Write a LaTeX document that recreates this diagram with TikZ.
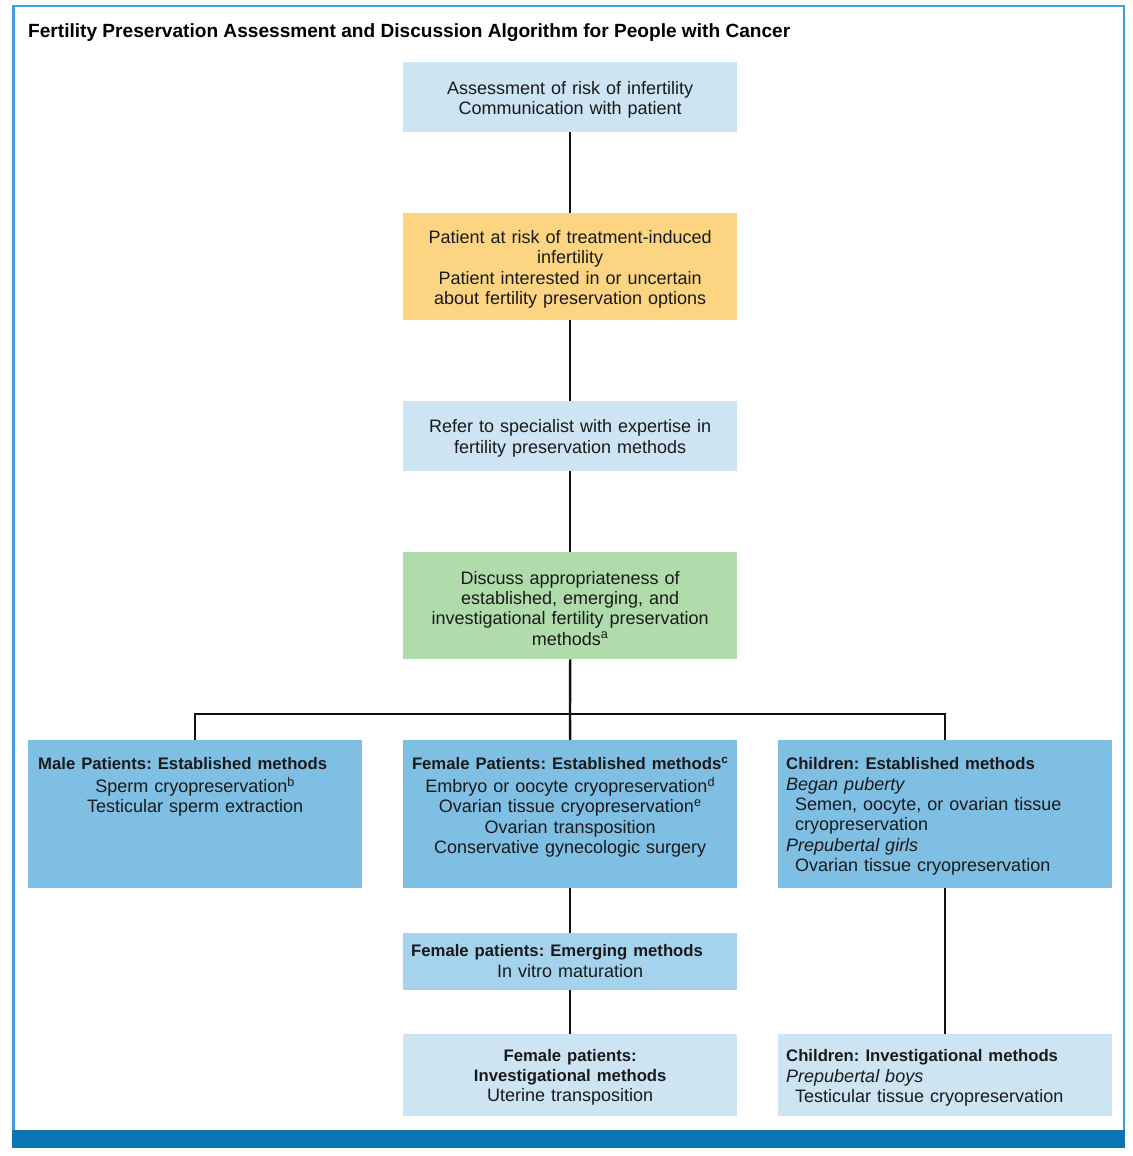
\documentclass[tikz,border=0pt]{standalone}
\usepackage{fontspec}
\setmainfont{Liberation Sans}
\frenchspacing
\definecolor{lightbox}{HTML}{CDE4F2}
\definecolor{orangebox}{HTML}{FDD582}
\definecolor{greenbox}{HTML}{B0DBAA}
\definecolor{estbox}{HTML}{7FBFE3}
\definecolor{emergbox}{HTML}{A5D2EC}
\definecolor{framecol}{HTML}{3F9FD8}
\definecolor{barcol}{HTML}{0A74B5}
\definecolor{txt}{HTML}{1A1A1A}
\newcommand\bodyfont{\fontsize{18}{20.3}\selectfont\frenchspacing}
\newcommand\hdr{\fontsize{16.7}{20.3}\selectfont\bfseries}
\newcommand\titlefont{\fontsize{19.1}{22}\selectfont\bfseries}
\begin{document}
\begin{tikzpicture}[x=1pt,y=-1pt,
  box/.style={draw=none, inner sep=0pt, minimum width=334pt, anchor=north west},
  lbox/.style={box, fill=lightbox},
  obox/.style={box, fill=orangebox},
  gbox/.style={box, fill=greenbox},
  ebox/.style={box, fill=estbox},
  mbox/.style={box, fill=emergbox},
  boxtext/.style={inner sep=0pt, text=txt, font=\bodyfont, text width=314pt},
  ctext/.style={boxtext, align=center, text width=330pt},
  conn/.style={draw=black!93, line width=2.4pt}]
\useasboundingbox (0,0) rectangle (1132,1156);
% frame
\draw[framecol, line width=2.5pt] (13.5,1130) -- (13.5,6) -- (1124,6) -- (1124,1130);
\fill[barcol] (12.2,1130) rectangle (1125.3,1148);
\node[anchor=base west, inner sep=0pt, font=\titlefont, text=black] (title) at (28,37.5)
  {Fertility Preservation Assessment and Discussion Algorithm for People with Cancer};
% boxes
\node[lbox, minimum height=70pt] (b1) at (403,62) {};
\node[obox, minimum height=107pt] (b2) at (403,213) {};
\node[lbox, minimum height=70pt] (b3) at (403,401) {};
\node[gbox, minimum height=107pt] (b4) at (403,552) {};
\node[ebox, minimum height=148pt] (b6) at (28,740) {};
\node[ebox, minimum height=148pt] (b7) at (403,740) {};
\node[ebox, minimum height=148pt] (b8) at (778,740) {};
\node[mbox, minimum height=57pt] (b9) at (403,933) {};
\node[lbox, minimum height=82pt] (b10) at (403,1034) {};
\node[lbox, minimum height=82pt] (b11) at (778,1034) {};
% centred texts
\node[ctext] (c1) at ([yshift=-2.5pt]b1.center)
  {Assessment of risk of infertility\\Communication with patient};
\node[ctext] (c2) at ([yshift=-2.5pt]b2.center)
  {Patient at risk of treatment-induced\\infertility\\Patient interested in or uncertain\\about fertility preservation options};
\node[ctext] (c3) at ([yshift=-2pt]b3.center)
  {Refer to specialist with expertise in\\fertility preservation methods};
\node[ctext] (c4) at ([yshift=-2.5pt]b4.center)
  {Discuss appropriateness of\\established, emerging, and\\investigational fertility preservation\\methods\textsuperscript{a}};
\node[ctext] (c10) at ([yshift=-2pt]b10.center)
  {{\hdr Female patients:}\\{\hdr Investigational methods}\\Uterine transposition};
% top-aligned texts
\node[boxtext, anchor=north west, align=left] (t6) at ([xshift=10pt,yshift=-15.5pt]b6.north west)
  {\strut{\hdr Male Patients: Established methods}\par
   {\centering Sperm cryopreservation\textsuperscript{b}\\Testicular sperm extraction\par}};
\node[ctext, anchor=north] (t7) at ([yshift=-15.5pt]b7.north)
  {\strut{\hdr Female Patients: Established methods\textsuperscript{c}}\\
   Embryo or oocyte cryopreservation\textsuperscript{d}\\
   Ovarian tissue cryopreservation\textsuperscript{e}\\
   Ovarian transposition\\
   Conservative gynecologic surgery};
\node[boxtext, anchor=north west, align=left] (t8) at ([xshift=8pt,yshift=-15.5pt]b8.north west)
  {\strut{\hdr Children: Established methods}\\
   {\itshape Began puberty}\\
   \hspace*{9pt}Semen, oocyte, or ovarian tissue\\
   \hspace*{9pt}cryopreservation\\
   {\itshape Prepubertal girls}\\
   \hspace*{9pt}Ovarian tissue cryopreservation};
\node[boxtext, anchor=north west, align=left, text width=318pt] (t9) at ([xshift=8pt,yshift=-9.5pt]b9.north west)
  {\strut{\hdr Female patients: Emerging methods}\par
   {\centering In vitro maturation\par}};
\node[boxtext, anchor=north west, align=left] (t11) at ([xshift=8pt,yshift=-13.4pt]b11.north west)
  {\strut{\hdr Children: Investigational methods}\\
   {\itshape Prepubertal boys}\\
   \hspace*{9pt}Testicular tissue cryopreservation};
% connectors
\coordinate (j) at (570,714);
\draw[conn] (b1.south) -- (b2.north);
\draw[conn] (b2.south) -- (b3.north);
\draw[conn] (b3.south) -- (b4.north);
\draw[conn] (b4.south) -- (j);
\draw[conn] (b6.north) |- (j) -| (b8.north);
\draw[conn] (j) -- (b7.north);
\draw[conn] (b7.south) -- (b9.north);
\draw[conn] (b9.south) -- (b10.north);
\draw[conn] (b8.south) -- (b11.north);
\end{tikzpicture}
\end{document}
